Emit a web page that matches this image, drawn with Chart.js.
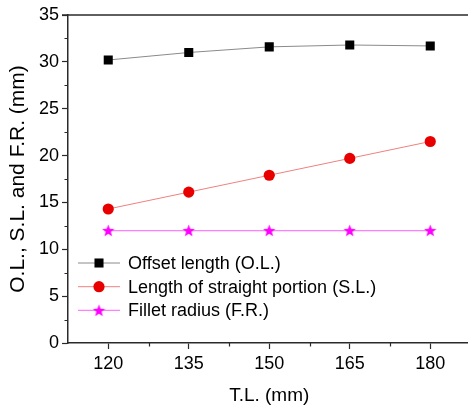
<!DOCTYPE html>
<html>
<head>
<meta charset="utf-8">
<script src="https://cdn.jsdelivr.net/npm/chart.js@4/dist/chart.umd.min.js"></script>
<style>
  html, body { margin: 0; padding: 0; overflow: hidden; background: #fff; }
  canvas { display: block; }
</style>
</head>
<body>
<canvas id="chart" width="477" height="407"></canvas>
<script>
// T.L. values on the x axis (mm)
const tlValues = [120, 135, 150, 165, 180];
// Measured series (mm)
const offsetLength = [30.2, 31.0, 31.6, 31.8, 31.7];
const straightLength = [14.3, 16.1, 17.9, 19.7, 21.5];
const filletRadius = [12, 12, 12, 12, 12];
// Series names
const seriesNames = ['Offset length (O.L.)', 'Length of straight portion (S.L.)', 'Fillet radius (F.R.)'];
// Axis ticks
const xTicks = [120, 135, 150, 165, 180];
const xMinorTicks = [127.5, 142.5, 157.5, 172.5];
const yTicks = [0, 5, 10, 15, 20, 25, 30, 35];
const yMinorTicks = [2.5, 7.5, 12.5, 17.5, 22.5, 27.5, 32.5];

const FONT = "'Liberation Sans', Arial, Helvetica, sans-serif";
const AXIS_COLOR = '#2a2a2a';

// Filled five-point star marker
function makeStar(size, color) {
  const c = document.createElement('canvas');
  c.width = size; c.height = size;
  const g = c.getContext('2d');
  const cx = size / 2, cy = size / 2 + 0.5, ro = size / 2, ri = ro * 0.42;
  g.beginPath();
  for (let i = 0; i < 10; i++) {
    const r = i % 2 ? ri : ro;
    const a = -Math.PI / 2 + i * Math.PI / 5;
    const px = cx + r * Math.cos(a), py = cy + r * Math.sin(a);
    i ? g.lineTo(px, py) : g.moveTo(px, py);
  }
  g.closePath();
  g.fillStyle = color;
  g.fill();
  return c;
}
const starImg = makeStar(13, '#ff00ff');

function points(ys) { return tlValues.map((x, i) => ({ x, y: ys[i] })); }

// Minor ticks, top frame line and the in-plot legend
const decorPlugin = {
  id: 'decor',
  afterDraw(chart) {
    const { ctx, chartArea: a, scales: { x, y } } = chart;
    ctx.save();
    ctx.strokeStyle = AXIS_COLOR;
    ctx.lineWidth = 1.5;
    ctx.beginPath();
    ctx.moveTo(a.left - 6, a.top);
    ctx.lineTo(chart.width, a.top);
    ctx.stroke();

    ctx.lineWidth = 1.2;
    ctx.beginPath();
    yMinorTicks.forEach(v => {
      const py = Math.round(y.getPixelForValue(v)) + 0.5;
      ctx.moveTo(a.left - 3.5, py); ctx.lineTo(a.left, py);
    });
    xMinorTicks.forEach(v => {
      const px = Math.round(x.getPixelForValue(v)) + 0.5;
      ctx.moveTo(px, a.bottom); ctx.lineTo(px, a.bottom + 3.5);
    });
    ctx.stroke();

    // legend
    const lx0 = a.left + 10, lx1 = a.left + 52, tx = a.left + 60;
    const ly0 = a.bottom - 80, gap = 23.7;
    ctx.font = '18px ' + FONT;
    ctx.textBaseline = 'middle';
    ctx.textAlign = 'left';
    chart.data.datasets.forEach((ds, i) => {
      const ly = ly0 + i * gap;
      ctx.strokeStyle = ds.borderColor;
      ctx.lineWidth = ds.borderWidth;
      ctx.beginPath();
      ctx.moveTo(lx0, ly); ctx.lineTo(lx1, ly);
      ctx.stroke();
      ctx.fillStyle = ds.pointBackgroundColor;
      ctx.strokeStyle = ds.pointBorderColor;
      Chart.helpers.drawPoint(ctx, {
        pointStyle: ds.pointStyle, radius: ds.pointRadius, borderWidth: ds.pointBorderWidth, rotation: 0
      }, (lx0 + lx1) / 2, ly);
      ctx.fillStyle = '#000';
      ctx.fillText(ds.label, tx, ly + 1);
    });
    ctx.restore();
  }
};

new Chart(document.getElementById('chart'), {
  type: 'line',
  data: {
    datasets: [
      {
        label: seriesNames[0], data: points(offsetLength),
        borderColor: '#8a8a8a', borderWidth: 1,
        pointStyle: 'rect', pointRadius: 6.4, pointBackgroundColor: '#000', pointBorderColor: '#000', pointBorderWidth: 0
      },
      {
        label: seriesNames[1], data: points(straightLength),
        borderColor: '#f08080', borderWidth: 1,
        pointStyle: 'circle', pointRadius: 5.6, pointBackgroundColor: '#e80000', pointBorderColor: '#e80000', pointBorderWidth: 0
      },
      {
        label: seriesNames[2], data: points(filletRadius),
        borderColor: '#ff80ff', borderWidth: 1.2,
        pointStyle: starImg, pointRadius: 6.5, pointBackgroundColor: '#ff00ff', pointBorderColor: '#ff00ff', pointBorderWidth: 0
      }
    ]
  },
  options: {
    responsive: false,
    animation: false,
    layout: { padding: { top: 15, left: 0, right: 0, bottom: 0 } },
    plugins: { legend: { display: false }, tooltip: { enabled: false } },
    elements: { line: { tension: 0 }, point: { hoverRadius: 6 } },
    scales: {
      x: {
        type: 'linear', min: 112.5, max: 187.5,
        afterBuildTicks: s => { s.ticks = xTicks.map(v => ({ value: v })); },
        afterFit: s => { s.height = 64; },
        grid: { drawOnChartArea: false, tickLength: 6, tickWidth: 1.2, tickColor: AXIS_COLOR },
        border: { color: AXIS_COLOR, width: 1.5 },
        ticks: { color: '#000', font: { family: FONT, size: 18 }, padding: 4, maxRotation: 0, autoSkip: false },
        title: { display: true, text: 'T.L. (mm)', color: '#000', font: { family: FONT, size: 19 }, padding: { top: 0, bottom: 0 } }
      },
      y: {
        type: 'linear', min: 0, max: 35,
        afterBuildTicks: s => { s.ticks = yTicks.map(v => ({ value: v })); },
        afterFit: s => { s.width = 68; },
        grid: { drawOnChartArea: false, tickLength: 6, tickWidth: 1.2, tickColor: AXIS_COLOR },
        border: { color: AXIS_COLOR, width: 1.5 },
        ticks: { color: '#000', font: { family: FONT, size: 18 }, padding: 3 },
        title: { display: true, text: 'O.L., S.L. and F.R. (mm)', color: '#000', font: { family: FONT, size: 21 }, padding: { top: 6, bottom: 0 } }
      }
    }
  },
  plugins: [decorPlugin]
});
</script>
</body>
</html>
